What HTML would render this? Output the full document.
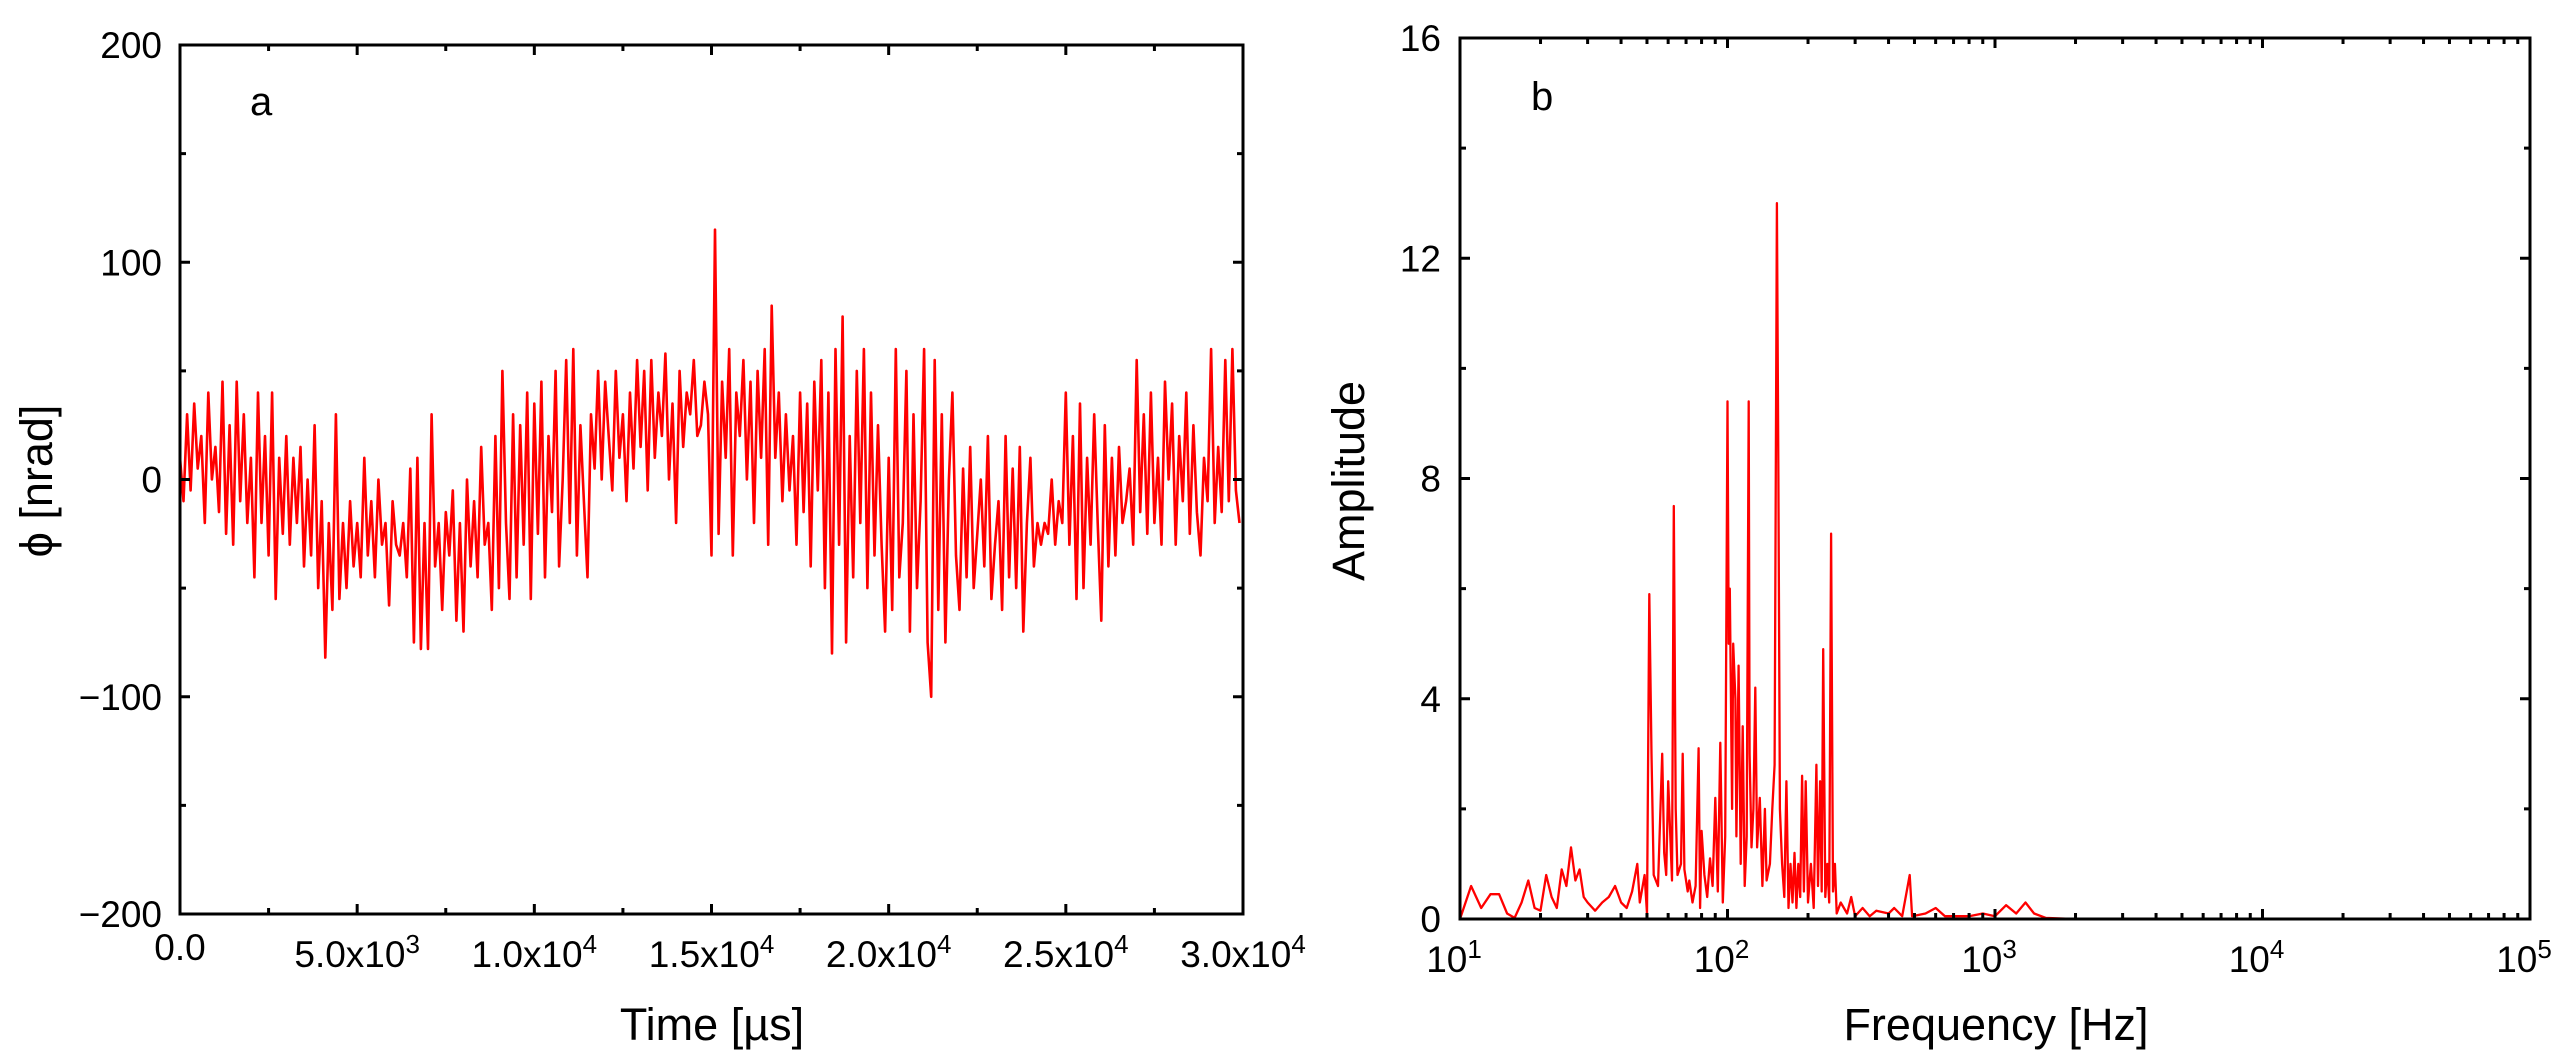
<!DOCTYPE html>
<html><head><meta charset="utf-8"><style>
html,body{margin:0;padding:0;background:#fff;}
svg{display:block;font-family:"Liberation Sans",Arial,sans-serif;}
</style></head><body>
<svg id="fig" width="2572" height="1063" viewBox="0 0 2572 1063">
<g id="pa"></g>
<g id="pb"></g>
</svg>
<script>
// Panel a data: time series (µs, nrad), sampled every 100 µs
const timeStep = 100;
const phiValues = [
10,-10,30,-5,35,5,20,-20,40,0,
15,-15,45,-25,25,-30,45,-10,30,-20,
10,-45,40,-20,20,-35,40,-55,10,-25,
20,-30,10,-20,15,-40,0,-35,25,-50,
-10,-82,-20,-60,30,-55,-20,-50,-10,-40,
-20,-45,10,-35,-10,-45,0,-30,-20,-58,
-10,-30,-35,-20,-45,5,-75,10,-78,-20,
-78,30,-40,-20,-60,-15,-35,-5,-65,-20,
-70,0,-40,-10,-45,15,-30,-20,-60,20,
-50,50,-20,-55,30,-45,25,-30,40,-55,
35,-25,45,-45,20,-15,50,-40,0,55,
-20,60,-35,25,-10,-45,30,5,50,0,
45,20,-5,50,10,30,-10,40,5,55,
15,50,-5,55,10,40,20,58,0,35,
-20,50,15,40,30,55,20,25,45,30,
-35,115,-25,45,10,60,-35,40,20,55,
0,45,-20,50,10,60,-30,80,10,40,
-10,30,-5,20,-30,40,-15,35,-40,45,
-5,55,-50,40,-80,60,-30,75,-75,20,
-45,50,-20,60,-50,40,-35,25,-30,-70,
10,-60,60,-45,-20,50,-70,30,-50,-10,
60,-75,-100,55,-60,30,-75,0,40,-35,
-60,5,-45,15,-50,-25,0,-40,20,-55,
-30,-10,-60,20,-45,5,-50,15,-70,-20,
10,-40,-20,-30,-20,-25,0,-30,-10,-20,
40,-30,20,-55,35,-50,10,-30,30,-20,
-65,25,-40,10,-35,15,-20,-10,5,-30,
55,-15,30,-25,40,-20,10,-30,45,0,
35,-30,20,-10,40,-25,25,-15,-35,10,
-10,60,-20,15,-15,55,-10,60,-5,-20];
const aXTicks = [0,5000,10000,15000,20000,25000,30000];
const aXMant = ["0.0","5.0","1.0","1.5","2.0","2.5","3.0"];
const aXExp = ["","3","4","4","4","4","4"];
const aYTicks = [-200,-100,0,100,200];
const aYLabels = ["\u2212200","\u2212100","0","100","200"];

// Panel b data: spectrum
const freqs = [10,11,12,13,14,15,16,17,18,19,20,21,22,23,24,25,26,27,28,29,30,32,34,36,38,40,42,44,46,47,49,50,51,52,53,55,57,58,59,60,62,63,64,65,67,68,69,71,72,74,76,78,79,80,82,84,86,88,90,92,94,96,98,100,101,102,104,105,107,108,110,112,114,116,118,120,121,123,125,127,129,132,135,138,140,144,147,150,153,155,157,160,163,166,169,172,175,178,181,184,187,190,193,196,200,205,210,215,218,222,225,228,232,236,240,244,248,252,256,265,280,290,300,320,340,360,400,420,450,480,490,550,600,650,700,800,900,1000,1100,1200,1300,1400,1550,2000,46000];
const amps = [0,0.6,0.2,0.45,0.45,0.1,0.02,0.3,0.7,0.2,0.15,0.8,0.4,0.2,0.9,0.6,1.3,0.7,0.9,0.4,0.3,0.15,0.3,0.4,0.6,0.3,0.2,0.5,1.0,0.3,0.8,0.1,5.9,3,0.8,0.6,3.0,1.2,0.8,2.5,0.7,7.5,2,0.8,1.0,3.0,0.9,0.5,0.7,0.3,0.6,3.1,0.2,1.6,0.8,0.4,1.1,0.6,2.2,0.5,3.2,0.3,1.5,9.4,5,6,2,5,4,1.5,4.6,1.0,3.5,0.6,1.5,9.4,3,1.3,2,4.2,1.3,2.2,0.6,2.0,0.7,1.0,2.0,2.8,13.0,8,2,1.0,0.4,2.5,0.2,1.0,0.3,1.2,0.2,1.0,0.4,2.6,0.5,2.5,0.3,1.0,0.2,2.8,0.6,2.5,0.5,4.9,0.4,1.0,0.3,7.0,0.5,1.0,0.1,0.3,0.1,0.4,0.05,0.2,0.05,0.15,0.1,0.2,0.05,0.8,0.05,0.1,0.2,0.05,0.05,0.05,0.1,0.05,0.25,0.1,0.3,0.1,0.02,0,0];
const bXExp = [1,2,3,4,5];
const bYTicks = [0,4,8,12,16];

const NS="http://www.w3.org/2000/svg";
function mk(parent,tag,attrs){
  const e=document.createElementNS(NS,tag);
  for(const k in attrs) e.setAttribute(k,attrs[k]);
  parent.appendChild(e);
  return e;
}
const FS=37;

// ---------- Panel a ----------
const pa=document.getElementById('pa');
const A={x0:180,x1:1243,y0:45,y1:914};
const ax=v=>A.x0+(v-0)/30000*(A.x1-A.x0);
const ay=v=>A.y1-(v+200)/400*(A.y1-A.y0);
let d="";
phiValues.forEach((v,i)=>{d+=(i?"L":"M")+ax(i*timeStep).toFixed(1)+" "+ay(v).toFixed(1);});
const lineA=mk(pa,'path',{d:d,fill:'none',stroke:'#ff0000','stroke-width':2.6,'stroke-linejoin':'round'});


const frA=mk(pa,'rect',{x:A.x0,y:A.y0,width:A.x1-A.x0,height:A.y1-A.y0,fill:'none',stroke:'#000','stroke-width':3});


let tk="";
for(let t=0;t<=30000;t+=2500){const x=ax(t);const L=(t%5000===0)?10:6;tk+=`M${x} ${A.y1}v${-L}M${x} ${A.y0}v${L}`;}
for(let v=-200;v<=200;v+=50){const y=ay(v);const L=(v%100===0)?10:6;tk+=`M${A.x0} ${y}h${L}M${A.x1} ${y}h${-L}`;}
const tkA=mk(pa,'path',{d:tk,stroke:'#000','stroke-width':3,fill:'none'});


aXTicks.forEach((t,i)=>{
  const tx=mk(pa,'text',{x:ax(t),y:967,'font-size':FS,'text-anchor':'middle'});
  
  
  if(aXExp[i]===""){tx.textContent=aXMant[i];tx.setAttribute('y',960);}
  else{
    const s1=mk(tx,'tspan',{});s1.textContent=aXMant[i]+"x10";
    const s2=mk(tx,'tspan',{dy:-14,'font-size':26});s2.textContent=aXExp[i];
  }
});
aYTicks.forEach((v,i)=>{
  const tx=mk(pa,'text',{x:162,y:ay(v)+13,'font-size':FS,'text-anchor':'end'});
  
  
  tx.textContent=aYLabels[i];
});
const xtA=mk(pa,'text',{x:712,y:1040,'font-size':45,'text-anchor':'middle'});


xtA.textContent="Time [\u00b5s]";
const ytA=mk(pa,'text',{x:0,y:0,'font-size':45,'text-anchor':'middle',transform:'translate(52,481) rotate(-90)'});


ytA.textContent="\u03d5 [nrad]";
const laA=mk(pa,'text',{x:250,y:115,'font-size':40});


laA.textContent="a";

// ---------- Panel b ----------
const pb=document.getElementById('pb');
const B={x0:1460,x1:2530,y0:38,y1:919};
const bx=f=>B.x0+(Math.log10(f)-1)/4*(B.x1-B.x0);
const by=v=>B.y1-v/16*(B.y1-B.y0);
d="";
freqs.forEach((f,i)=>{d+=(i?"L":"M")+bx(f).toFixed(1)+" "+by(amps[i]).toFixed(1);});
const lineB=mk(pb,'path',{d:d,fill:'none',stroke:'#ff0000','stroke-width':2.3,'stroke-linejoin':'round'});


const frB=mk(pb,'rect',{x:B.x0,y:B.y0,width:B.x1-B.x0,height:B.y1-B.y0,fill:'none',stroke:'#000','stroke-width':3});


tk="";
for(let e=1;e<5;e++){for(let m=1;m<10;m++){const x=bx(m*Math.pow(10,e));const L=m===1?10:6;tk+=`M${x} ${B.y1}v${-L}M${x} ${B.y0}v${L}`;}}
for(let v=0;v<=16;v+=2){const y=by(v);const L=(v%4===0)?10:6;tk+=`M${B.x0} ${y}h${L}M${B.x1} ${y}h${-L}`;}
const tkB=mk(pb,'path',{d:tk,stroke:'#000','stroke-width':3,fill:'none'});


bXExp.forEach(e=>{
  const tx=mk(pb,'text',{x:bx(Math.pow(10,e))-6,y:972,'font-size':FS,'text-anchor':'middle'});
  
  
  const s1=mk(tx,'tspan',{});s1.textContent="10";
  const s2=mk(tx,'tspan',{dy:-14,'font-size':26});s2.textContent=String(e);
});
bYTicks.forEach(v=>{
  const tx=mk(pb,'text',{x:1441,y:by(v)+13,'font-size':FS,'text-anchor':'end'});
  
  
  tx.textContent=String(v);
});
const xtB=mk(pb,'text',{x:1996,y:1040,'font-size':45,'text-anchor':'middle'});


xtB.textContent="Frequency [Hz]";
const ytB=mk(pb,'text',{x:0,y:0,'font-size':45,'text-anchor':'middle',transform:'translate(1364,481) rotate(-90)'});


ytB.textContent="Amplitude";
const lbB=mk(pb,'text',{x:1531,y:110,'font-size':40});


lbB.textContent="b";
</script>
</body></html>
